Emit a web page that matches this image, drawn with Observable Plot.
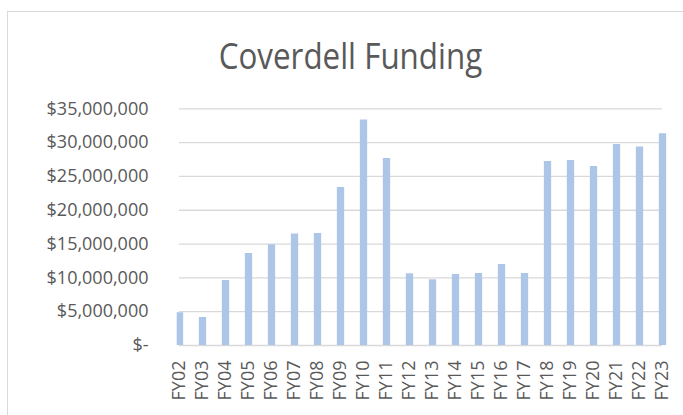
<!DOCTYPE html>
<html>
<head>
<meta charset="utf-8">
<script src="https://cdn.jsdelivr.net/npm/d3@7"></script>
<script src="https://cdn.jsdelivr.net/npm/@observablehq/plot@0.6"></script>
<style>
  html, body { margin: 0; padding: 0; background: #fff; overflow: hidden; }
  #wrap { position: relative; width: 683px; height: 415px; overflow: hidden; }
  #frame { position: absolute; left: 7px; top: 11px; width: 720px; height: 440px; border: 1.5px solid #d9d9d9; box-sizing: border-box; }
  #title { position: absolute; left: 0; top: 36.4px; width: 701px; text-align: center; font-family: "Open Sans", sans-serif; font-size: 37px; line-height: 1; color: #595959; }
  #title span { display: inline-block; transform: scaleX(0.848); transform-origin: center; }
  #chart { position: absolute; left: 0; top: 90px; }
</style>
</head>
<body>
<div id="wrap">
  <div id="frame"></div>
  <div id="title"><span>Coverdell Funding</span></div>
  <div id="chart"></div>
</div>
<script>
const categories = ["FY02","FY03","FY04","FY05","FY06","FY07","FY08","FY09","FY10","FY11","FY12","FY13","FY14","FY15","FY16","FY17","FY18","FY19","FY20","FY21","FY22","FY23"];
const values = [4840000, 4140000, 9620000, 13600000, 14900000, 16470000, 16570000, 23370000, 33330000, 27660000, 10600000, 9710000, 10500000, 10650000, 11980000, 10650000, 27200000, 27370000, 26480000, 29730000, 29340000, 31300000];
const yTicks = [0, 5000000, 10000000, 15000000, 20000000, 25000000, 30000000, 35000000];

const data = categories.map((c, i) => ({fy: c, value: values[i]}));
const fmt = d3.format(",");

const chart = Plot.plot({
  width: 683,
  height: 325,
  marginLeft: 176.7,
  marginRight: 12,
  marginTop: 18.3,
  marginBottom: 70,
  style: {fontFamily: "'Open Sans', sans-serif", fontSize: "18px", color: "#595959", background: "transparent", overflow: "visible"},
  x: {type: "point", domain: categories, range: [176.7, 663.9], padding: 0},
  y: {domain: [0, 35000000], range: [255, 18.3]},
  marks: [
    Plot.ruleY(yTicks, {y: d => d, x1: () => categories[0], x2: () => categories[categories.length - 1], stroke: "#d9d9d9", strokeWidth: 1.3}),
    Plot.ruleX(data, {x: "fy", y1: 0, y2: "value", stroke: "#adc5e7", strokeWidth: 7.3, clip: true}),
    Plot.axisX({tickSize: 0, tickPadding: 15, tickRotate: -90, label: null, fill: "#595959"}),
    Plot.axisY({ticks: yTicks, tickSize: 0, tickPadding: 28.7, label: null, fill: "#595959",
      tickFormat: d => d === 0 ? "$-" : "$" + fmt(d)})
  ]
});
document.getElementById("chart").appendChild(chart);
</script>
</body>
</html>
